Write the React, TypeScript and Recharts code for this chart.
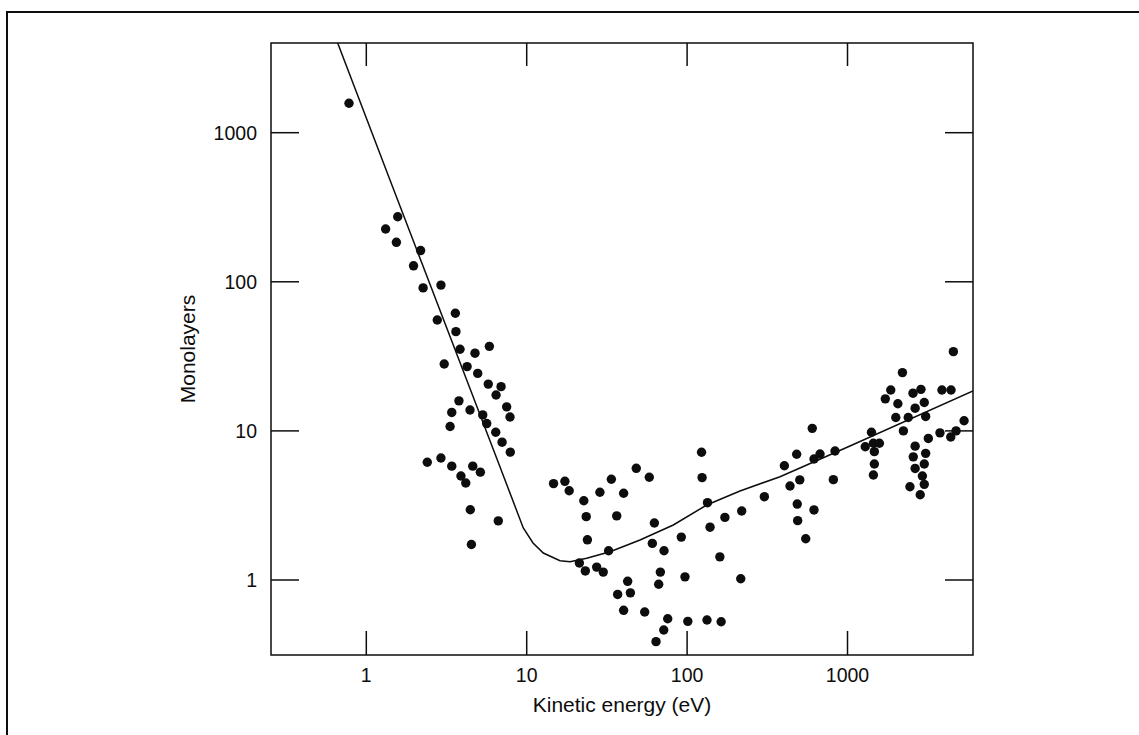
import { ScatterChart, Scatter, XAxis, YAxis, ReferenceArea } from "recharts";

// axis setup (log-log)
const xTicks = [1, 10, 100, 1000];
const yTicks = [1, 10, 100, 1000];
const xDomain = [0.2546, 6058];
const yDomain = [0.314, 3996];

// measured points: kinetic energy (eV) vs escape depth (monolayers)
const dotEnergy = [
  0.78, 1.57, 1.32, 1.54, 2.18, 1.97, 2.26, 2.92, 3.59, 2.77, 3.62, 3.84, 4.76, 5.85,
  3.06, 4.25, 4.95, 5.76, 6.92, 6.44, 7.5, 7.87, 3.78, 3.41, 4.43, 5.32, 5.63, 3.33,
  6.41, 7.02, 7.9, 2.4, 2.92, 3.41, 4.61, 5.14, 3.89, 4.17, 4.45, 6.65, 4.52,
  123, 124, 48.2, 58.1, 14.7, 17.3, 18.4, 33.7, 28.6, 40.2, 22.7, 23.5, 36.4, 23.9,
  62.5, 134, 139, 172, 219, 303, 92, 60.7, 71.8, 32.4, 160, 21.3, 23.2, 27.3, 30,
  68.1, 66.5, 97, 216, 42.6, 36.9, 44.3, 40.2, 54.4, 75.7, 71.5, 64, 101, 133, 163,
  4570, 2200, 1860, 1720, 2560, 2870, 3880, 4420, 2060, 2640, 3010, 2000, 2390, 3070,
  2230, 3770, 4400, 4750, 5330, 3190, 2640, 2570, 2640, 3070, 3010, 2930, 3010, 2450,
  2840, 1410, 1290, 1450, 1580, 1470, 1470, 1450, 603, 618, 674, 836, 482, 404, 504,
  438, 816, 486, 489, 618, 549,
];
const dotLayers = [
  1575, 273, 226, 184, 162, 128, 91, 95, 61.5, 55.4, 46.3, 35.3, 33.2, 36.9,
  28.1, 27, 24.3, 20.6, 19.8, 17.4, 14.5, 12.4, 15.9, 13.3, 13.8, 12.8, 11.2, 10.7,
  9.8, 8.4, 7.2, 6.16, 6.58, 5.8, 5.8, 5.29, 4.98, 4.47, 2.96, 2.49, 1.73,
  7.19, 4.86, 5.61, 4.89, 4.43, 4.59, 3.97, 4.74, 3.88, 3.82, 3.4, 2.66, 2.69, 1.86,
  2.41, 3.3, 2.26, 2.63, 2.9, 3.62, 1.94, 1.76, 1.57, 1.57, 1.43, 1.3, 1.15, 1.22, 1.13,
  1.13, 0.936, 1.05, 1.02, 0.98, 0.8, 0.82, 0.626, 0.61, 0.55, 0.462, 0.386, 0.528, 0.539, 0.525,
  34, 24.6, 18.8, 16.4, 17.9, 19, 18.8, 18.8, 15.2, 14.2, 15.5, 12.3, 12.3, 12.5,
  10, 9.7, 9.1, 10, 11.7, 8.9, 7.9, 6.7, 5.6, 7.07, 6, 4.98, 4.38, 4.22,
  3.73, 9.8, 7.83, 8.26, 8.26, 7.26, 6, 5.06, 10.4, 6.48, 7, 7.33, 6.97, 5.84, 4.69,
  4.27, 4.71, 3.23, 2.5, 2.95, 1.89,
];

// universal curve
const curveEnergy = [
  0.663, 1.405, 4.227, 6.82, 9.52, 10.95, 12.69, 16.13, 18.62, 23.66, 33.06, 50.86,
  82.0, 132.5, 213.7, 379.6, 1036, 6059,
];
const curveLayers = [
  3996, 481.7, 21.95, 5.73, 2.233, 1.771, 1.517, 1.347, 1.326, 1.398, 1.548, 1.855,
  2.338, 3.184, 3.954, 4.93, 7.92, 18.52,
];

const dots = dotEnergy.map((e, i) => ({ e, m: dotLayers[i] }));
const curve = curveEnergy.map((e, i) => ({ e, m: curveLayers[i] }));

const INK = "#0d0d0d";
const FONT = "'Liberation Sans', Arial, Helvetica, sans-serif";
const PLOT_W = 702;
const PLOT_H = 612;
const X_GAP = 13;
const Y_GAP = 14;

function XTick(props: any) {
  const { x, y, payload } = props;
  const base = y - X_GAP;
  return (
    <g>
      <line x1={x} x2={x} y1={base} y2={base - 24} stroke={INK} strokeWidth={1.5} />
      <line x1={x} x2={x} y1={base - PLOT_H} y2={base - PLOT_H + 23} stroke={INK} strokeWidth={1.5} />
      <text x={x} y={y} dy="0.71em" textAnchor="middle" fill={INK} fontSize={19.5} fontFamily={FONT}>
        {payload.value}
      </text>
    </g>
  );
}

function YTick(props: any) {
  const { x, y, payload } = props;
  const base = x + Y_GAP;
  return (
    <g>
      <line x1={base} x2={base + 28} y1={y} y2={y} stroke={INK} strokeWidth={1.5} />
      <line x1={base + PLOT_W - 28} x2={base + PLOT_W} y1={y} y2={y} stroke={INK} strokeWidth={1.5} />
      <text x={x} y={y} dy="0.355em" textAnchor="end" fill={INK} fontSize={19.5} fontFamily={FONT}>
        {payload.value}
      </text>
    </g>
  );
}

export default function App() {
  return (
    <div style={{ position: "relative", width: 1139, height: 735, background: "#fff" }}>
      <style>{"body{margin:0}"}</style>
      <div
        style={{
          position: "absolute",
          left: 6,
          top: 11,
          right: 0,
          bottom: 0,
          borderTop: `2px solid ${INK}`,
          borderLeft: `2px solid ${INK}`,
          pointerEvents: "none",
        }}
      />
      <ScatterChart
        width={1139}
        height={735}
        margin={{ top: 43, right: 166, bottom: 40, left: 187 }}
        style={{ position: "absolute", left: 0, top: 0 }}
      >
        <XAxis
          type="number"
          dataKey="e"
          scale="log"
          domain={xDomain}
          allowDataOverflow
          ticks={xTicks}
          interval={0}
          height={40}
          axisLine={false}
          tickLine={false}
          tickSize={0}
          tickMargin={X_GAP}
          tick={<XTick />}
          label={{
            value: "Kinetic energy (eV)",
            position: "bottom",
            offset: 2,
            fill: INK,
            fontSize: 21,
            fontFamily: FONT,
          }}
        />
        <YAxis
          type="number"
          dataKey="m"
          scale="log"
          domain={yDomain}
          allowDataOverflow
          ticks={yTicks}
          interval={0}
          width={84}
          axisLine={false}
          tickLine={false}
          tickSize={0}
          tickMargin={Y_GAP}
          tick={<YTick />}
          label={{
            value: "Monolayers",
            angle: -90,
            position: "insideLeft",
            offset: 1,
            fill: INK,
            fontSize: 21,
            fontFamily: FONT,
            style: { textAnchor: "middle" },
          }}
        />
        <ReferenceArea
          x1={xDomain[0]}
          x2={xDomain[1]}
          y1={yDomain[0]}
          y2={yDomain[1]}
          fill="none"
          stroke={INK}
          strokeWidth={1.5}
          ifOverflow="visible"
        />
        <Scatter
          data={curve}
          line={{ stroke: INK, strokeWidth: 1.5 }}
          lineType="joint"
          shape={() => <g />}
          isAnimationActive={false}
        />
        <Scatter
          data={dots}
          shape={(p: any) => <circle cx={p.cx} cy={p.cy} r={4.7} fill={INK} />}
          isAnimationActive={false}
        />
      </ScatterChart>
    </div>
  );
}
